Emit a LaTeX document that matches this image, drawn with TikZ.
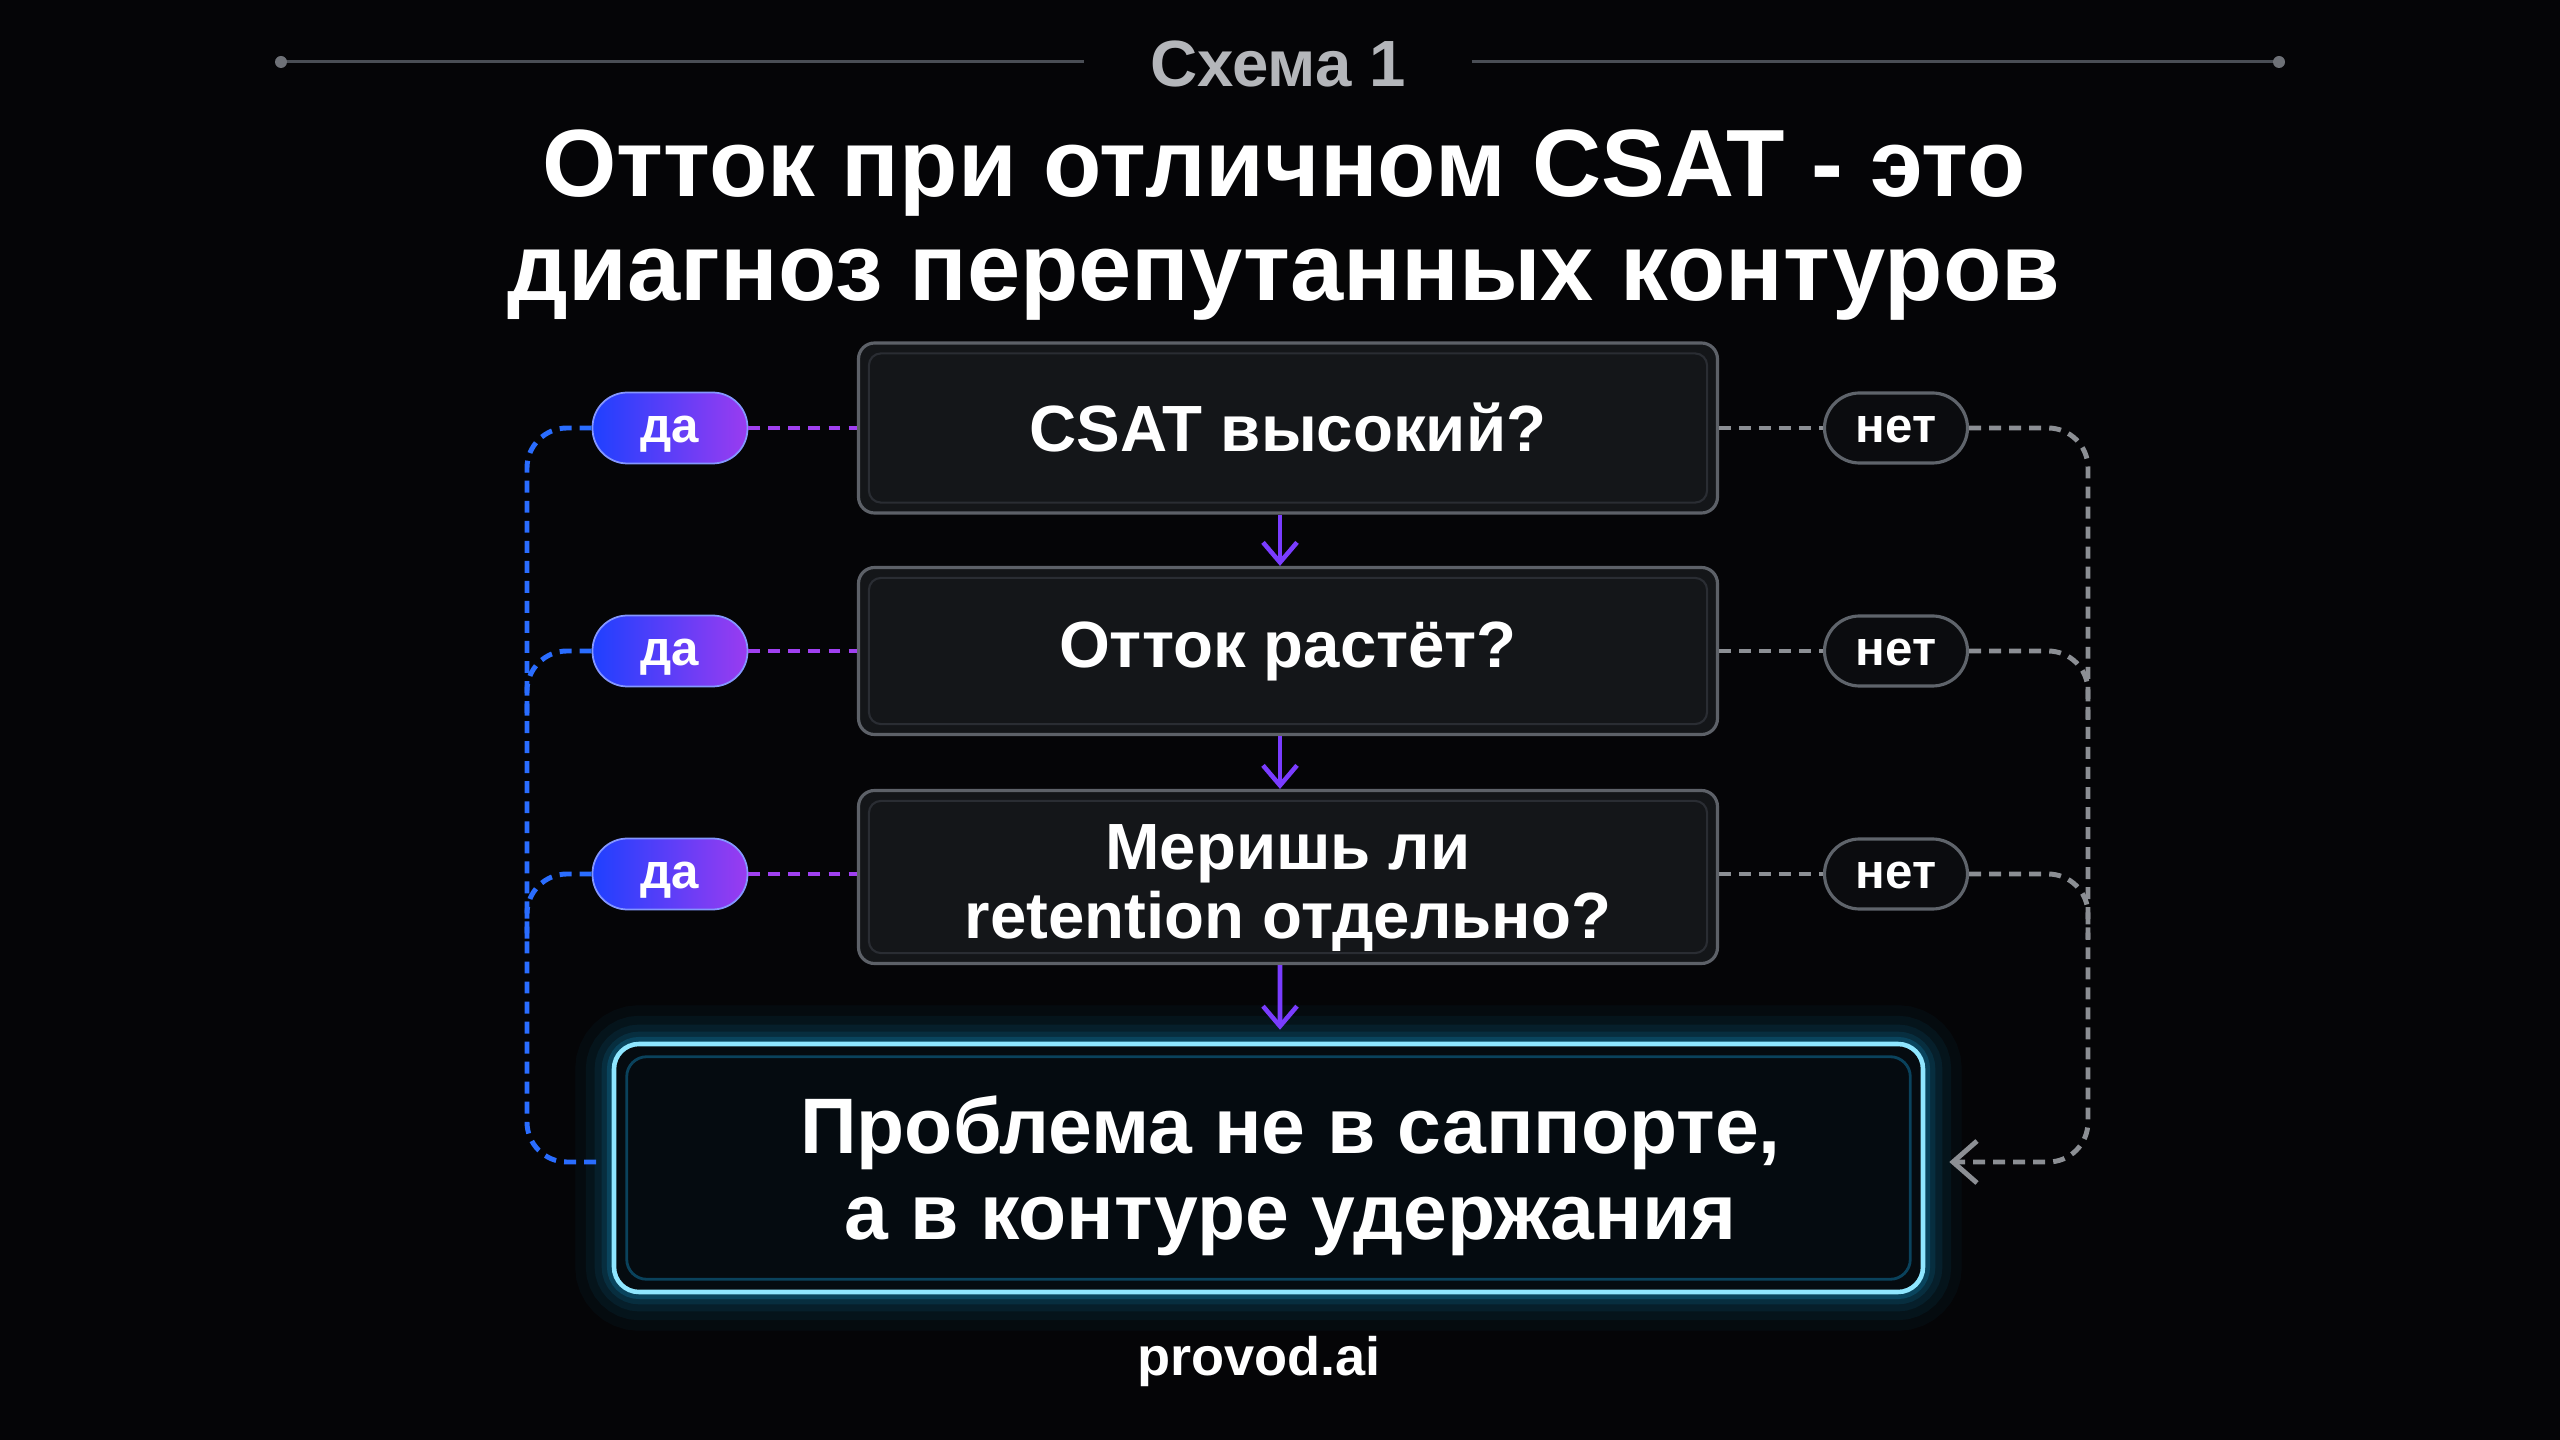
\documentclass[tikz,border=0pt]{standalone}
\usepackage{fontspec}
\setmainfont{Liberation Sans}
\usetikzlibrary{arrows.meta,calc}
\definecolor{bg}{HTML}{050507}
\definecolor{boxfill}{HTML}{141619}
\definecolor{boxborder}{HTML}{5D6168}
\definecolor{innerborder}{HTML}{2A2D33}
\definecolor{cyanborder}{HTML}{8EE6FF}
\definecolor{cyanglow}{HTML}{14A8EA}
\definecolor{finalfill}{HTML}{050B10}
\definecolor{arrowpurple}{HTML}{7A3CFF}
\definecolor{purpdashc}{HTML}{A040F0}
\definecolor{bluedashc}{HTML}{2A6DFF}
\definecolor{graydashc}{HTML}{8C8F94}
\definecolor{pillblue}{HTML}{1F40FF}
\definecolor{pillpurple}{HTML}{9A3CF0}
\definecolor{netfill}{HTML}{0B0C0F}
\definecolor{netborder}{HTML}{5F646B}
\definecolor{topgray}{HTML}{4A4E55}
\definecolor{schgray}{HTML}{B4B6BA}
\begin{document}
\begin{tikzpicture}[x=0.1mm,y=-0.1mm,
  qbox/.style={draw=boxborder, line width=0.9pt, fill=boxfill, rounded corners=1.6mm,
    minimum width=85.9mm, text=white, align=center,
    font=\fontsize{18.6}{19.6}\selectfont\bfseries},
  qtext/.style={text=white, align=center, font=\fontsize{18.6}{19.6}\selectfont\bfseries},
  dapill/.style={rounded corners=3.5mm, minimum width=15.5mm, minimum height=7.1mm,
    left color=pillblue, right color=pillpurple, draw=pillblue!55!white, line width=0.5pt,
    text=white, inner sep=0pt, text height=1.55ex, text depth=0ex,
    font=\fontsize{14}{16}\selectfont\bfseries},
  netpill/.style={rounded corners=3.5mm, minimum width=14.3mm, minimum height=7.0mm,
    fill=netfill, draw=netborder, line width=0.9pt,
    text=white, inner sep=0pt, text height=1.55ex, text depth=0ex,
    font=\fontsize{14}{16}\selectfont\bfseries},
  dashbase/.style={line width=1.4pt, dash pattern=on 3.4pt off 2.3pt},
  purpdash/.style={dashbase, draw=purpdashc},
  bluedash/.style={dashbase, draw=bluedashc, rounded corners=4mm},
  graydash/.style={dashbase, draw=graydashc, rounded corners=4mm},
  varrow/.style={draw=arrowpurple, line width=1.3pt, -{Straight Barb[length=2mm, width=3.4mm]}},
]
\fill[bg] (0,0) rectangle (2560,1440);
\useasboundingbox (0,0) rectangle (2560,1440);

% header
\node[text=schgray, font=\fontsize{18.6}{22}\selectfont\bfseries, inner xsep=6.5mm] (sch) at (1278,64) {Схема 1};
\coordinate (tl) at (281,62);
\coordinate (tr) at (2279,62);
\draw[topgray, line width=0.85pt] (tl) -- (sch.west |- tl);
\draw[topgray, line width=0.85pt] (sch.east |- tr) -- (tr);
\fill[topgray!80!white] (tl) circle (0.6mm);
\fill[topgray!80!white] (tr) circle (0.6mm);

\node[text=white, align=center, font=\fontsize{27.2}{29.6}\selectfont\bfseries] (title) at (1284,225)
  {Отток при отличном CSAT - это\\диагноз перепутанных контуров};

% question boxes
\node[qbox, minimum height=17mm] (b1) at (1288,428) {CSAT высокий?};
\node[qbox, minimum height=16.7mm] (b2) at (1288,651) {Отток растёт?};
\node[qbox, minimum height=17.3mm] (b3) at (1288,877) {};
\foreach \b in {b1,b2,b3}{
  \draw[innerborder, line width=0.6pt, rounded corners=1.2mm] ($(\b.north west)+(12,12)$) rectangle ($(\b.south east)+(-12,-12)$);
}
\node[qtext] (b3text) at ($(b3.center)+(0,11)$) {Меришь ли\\retention отдельно?};

% final box glow
\foreach \w/\o in {22/0.04,16/0.06,11/0.08,7/0.11,4/0.18}{
  \draw[cyanglow, opacity=\o, line width=\w pt, rounded corners=2.5mm] (614,1044) rectangle (1923,1292);
}
\node[draw=cyanborder, line width=1.3pt, fill=finalfill, rounded corners=2.5mm,
  minimum width=130.9mm, minimum height=24.8mm] (final) at (1268.5,1168) {};
\draw[cyanglow!35!finalfill, line width=0.8pt, rounded corners=2mm] ($(final.north west)+(15,15)$) rectangle ($(final.south east)+(-15,-15)$);
\node[text=white, align=center, font=\fontsize{22.4}{24.6}\selectfont\bfseries] (finaltext) at ($(final.center)+(22,8)$)
  {Проблема не в саппорте,\\а в контуре удержания};

% vertical arrows
\draw[varrow] ($(b1.south)+(-8,0)$) -- ($(b2.north)+(-8,0)$);
\draw[varrow] ($(b2.south)+(-8,0)$) -- ($(b3.north)+(-8,0)$);
\draw[varrow] ($(b3.south)+(-8,0)$) -- ($(final.north)+(11.5,-12)$);

% pills
\node[dapill] (da1) at (670,428) {да};
\node[dapill] (da2) at (670,651) {да};
\node[dapill] (da3) at (670,874) {да};
\node[netpill] (net1) at (1896,428) {нет};
\node[netpill] (net2) at (1896,651) {нет};
\node[netpill] (net3) at (1896,874) {нет};

% dashed links
\draw[purpdash] (da1.east) -- (b1.west);
\draw[purpdash] (da2.east) -- (b2.west);
\draw[purpdash] (da3.east) -- (b3.west |- da3.east);
\draw[graydash] (b1.east) -- (net1.west);
\draw[graydash] (b2.east) -- (net2.west);
\draw[graydash] (b3.east |- net3.west) -- (net3.west);

\coordinate (lb) at (527,1162);
\coordinate (lj2) at (527,720);
\coordinate (lj3) at (527,940);
\draw[bluedash, shorten >=1mm] (da1.west) -| (lb) -- (final.west |- lb);
\draw[bluedash] (da2.west) -| (lj2);
\draw[bluedash] (da3.west) -| (lj3);

\coordinate (rb) at (2088,1162);
\coordinate (rj2) at (2088,720);
\coordinate (rj3) at (2088,940);
\draw[graydash, shorten >=2.4mm, -{Straight Barb[length=2.4mm, width=4.2mm]}] (net1.east) -| (rb) -- (final.east |- rb);
\draw[graydash] (net2.east) -| (rj2);
\draw[graydash] (net3.east) -| (rj3);

% footer
\node[text=white, font=\fontsize{15.4}{18}\selectfont\bfseries] (brand) at (1259,1362) {provod.ai};
\end{tikzpicture}
\end{document}
